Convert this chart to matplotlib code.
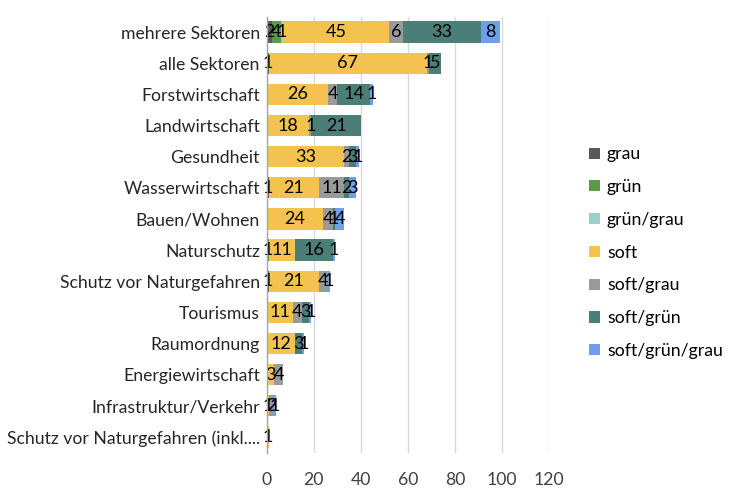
import matplotlib
matplotlib.use("Agg")
import matplotlib.pyplot as plt
import numpy as np

plt.rcParams['font.family'] = ['Lato', 'DejaVu Sans']

categories = ["mehrere Sektoren", "alle Sektoren", "Forstwirtschaft", "Landwirtschaft",
              "Gesundheit", "Wasserwirtschaft", "Bauen/Wohnen", "Naturschutz",
              "Schutz vor Naturgefahren", "Tourismus", "Raumordnung", "Energiewirtschaft",
              "Infrastruktur/Verkehr", "Schutz vor Naturgefahren (inkl...."]

series_names = ["grau", "grün", "grün/grau", "soft", "soft/grau", "soft/grün", "soft/grün/grau"]

grau           = [2, 1, 0, 0, 0, 1, 0, 0, 1, 0, 0, 0, 0, 0]
gruen          = [4, 0, 0, 0, 0, 0, 0, 1, 0, 0, 0, 0, 0, 0]
gruen_grau     = [1, 0, 0, 0, 0, 0, 0, 0, 0, 0, 0, 0, 0, 0]
soft           = [45, 67, 26, 18, 33, 21, 24, 11, 21, 11, 12, 3, 1, 1]
soft_grau      = [6, 1, 4, 1, 2, 11, 4, 0, 4, 4, 0, 4, 2, 0]
soft_gruen     = [33, 5, 14, 21, 3, 2, 1, 16, 0, 3, 3, 0, 0, 0]
soft_gruen_grau= [8, 0, 1, 0, 1, 3, 4, 1, 1, 1, 1, 0, 1, 0]

series = [grau, gruen, gruen_grau, soft, soft_grau, soft_gruen, soft_gruen_grau]
colors = ["#595959", "#5B9A4B", "#9CCFCA", "#F4C34F", "#9A9A9A", "#4B7E76", "#6F9FEA"]

FS = 12.7

fig = plt.figure(figsize=(7.35, 5.0), dpi=100)
ax = fig.add_axes([0.363, 0.095, 0.384, 0.872])

y = np.arange(len(categories))
left = np.zeros(len(categories))
handles = []
for name, vals, col in zip(series_names, series, colors):
    vals = np.array(vals, dtype=float)
    bars = ax.barh(y, vals, left=left, height=0.68, color=col, label=name, zorder=3)
    handles.append(bars)
    for yi, (l, v) in enumerate(zip(left, vals)):
        if v > 0:
            ax.text(l + v / 2, yi, f"{int(v)}", ha='center', va='center',
                    fontsize=13, color='#000000', zorder=4)
    left += vals

ax.set_ylim(len(categories) - 0.5, -0.5)
ax.set_xlim(0, 120)
ax.set_xticks(np.arange(0, 121, 20))
ax.set_yticks(y)
ax.set_yticklabels(categories, fontsize=FS, color='#262626')
ax.tick_params(axis='x', labelsize=FS, colors='#404040', length=0, pad=14)
ax.tick_params(axis='y', length=0, pad=5)
for s in ['top', 'right', 'bottom']:
    ax.spines[s].set_visible(False)
ax.spines['left'].set_color('#A6A6A6')
ax.spines['left'].set_linewidth(1.0)
ax.spines['left'].set_zorder(5)
ax.xaxis.grid(True, color='#D9D9D9', linewidth=1.0, zorder=0)
ax.set_axisbelow(True)

leg = fig.legend(handles=handles, labels=series_names, loc='upper left',
                 bbox_to_anchor=(0.785, 0.732), frameon=False, fontsize=FS,
                 handlelength=0.6, handleheight=0.6, handletextpad=0.4,
                 labelspacing=0.95, borderpad=0.2)

fig.savefig("out.png", dpi=100)
